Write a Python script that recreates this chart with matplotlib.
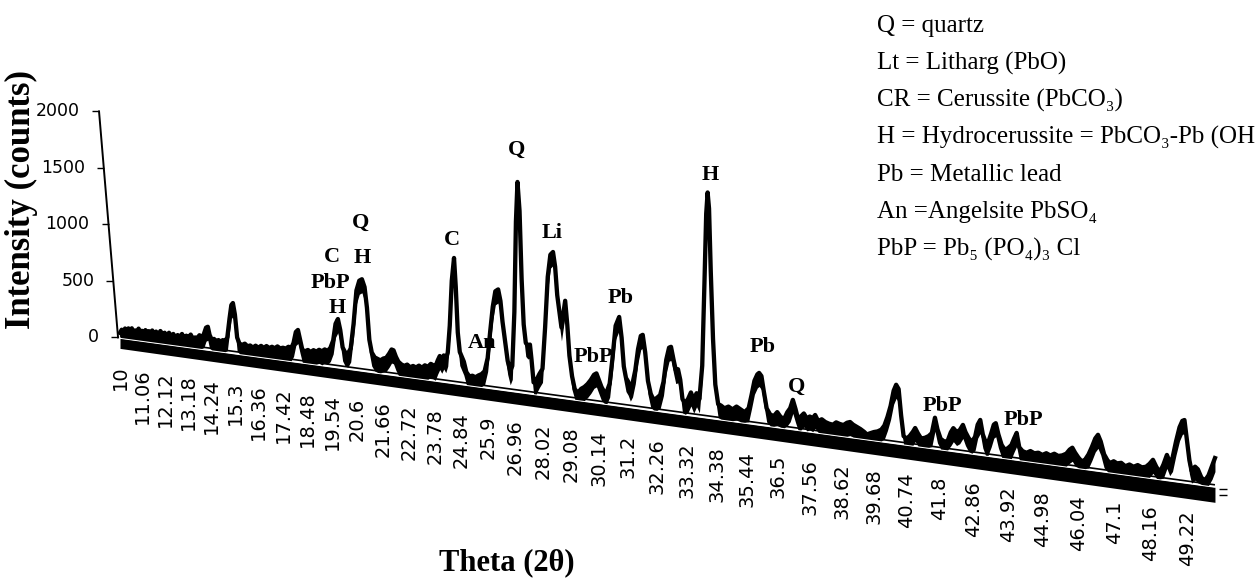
import numpy as np
import matplotlib
matplotlib.use("Agg")
import matplotlib.pyplot as plt
import matplotlib.transforms as mtransforms

# ---------------- data ----------------
theta = [
    10.00, 10.08, 10.16, 10.24, 10.32, 10.40, 10.48, 10.56, 10.64, 10.72, 10.80, 10.88, 10.96, 11.04,
    11.12, 11.20, 11.28, 11.36, 11.44, 11.52, 11.60, 11.70, 11.80, 11.90, 12.00, 12.10, 12.20, 12.30,
    12.40, 12.50, 12.60, 12.70, 12.80, 12.90, 13.00, 13.10, 13.20, 13.30, 13.40, 13.50, 13.60, 13.70,
    13.80, 13.90, 14.00, 14.08, 14.16, 14.26, 14.36, 14.46, 14.56, 14.66, 14.76, 14.86, 14.96, 15.06,
    15.14, 15.21, 15.30, 15.40, 15.50, 15.62, 15.74, 15.86, 15.98, 16.10, 16.22, 16.34, 16.46, 16.58,
    16.70, 16.82, 16.94, 17.06, 17.18, 17.30, 17.42, 17.54, 17.66, 17.78, 17.88, 17.98, 18.07, 18.16,
    18.26, 18.38, 18.50, 18.62, 18.74, 18.86, 18.98, 19.10, 19.22, 19.34, 19.46, 19.58, 19.68, 19.78,
    19.88, 19.98, 20.08, 20.20, 20.32, 20.44, 20.56, 20.68, 20.79, 20.90, 21.00, 21.10, 21.20, 21.32,
    21.44, 21.56, 21.68, 21.80, 21.92, 22.02, 22.10, 22.20, 22.30, 22.42, 22.54, 22.66, 22.78, 22.90,
    23.02, 23.14, 23.26, 23.38, 23.50, 23.62, 23.72, 23.80, 23.90, 23.98, 24.06, 24.14, 24.22, 24.30,
    24.38, 24.46, 24.55, 24.62, 24.70, 24.78, 24.86, 24.94, 25.04, 25.16, 25.28, 25.40, 25.52, 25.64,
    25.76, 25.88, 25.98, 26.08, 26.18, 26.29, 26.38, 26.46, 26.56, 26.66, 26.76, 26.84, 26.92, 26.98,
    27.04, 27.12, 27.20, 27.28, 27.36, 27.44, 27.52, 27.58, 27.66, 27.76, 27.88, 28.00, 28.10, 28.20,
    28.30, 28.40, 28.48, 28.56, 28.64, 28.72, 28.78, 28.86, 28.94, 29.02, 29.12, 29.22, 29.34, 29.46,
    29.58, 29.70, 29.82, 29.94, 30.03, 30.12, 30.22, 30.32, 30.42, 30.52, 30.62, 30.74, 30.87, 30.96,
    31.04, 31.12, 31.20, 31.28, 31.36, 31.46, 31.56, 31.66, 31.73, 31.82, 31.92, 32.02, 32.12, 32.24,
    32.36, 32.48, 32.58, 32.68, 32.75, 32.84, 32.92, 33.00, 33.08, 33.16, 33.26, 33.36, 33.46, 33.56,
    33.66, 33.76, 33.86, 33.94, 34.00, 34.05, 34.10, 34.16, 34.24, 34.32, 34.42, 34.52, 34.64, 34.78,
    34.92, 35.06, 35.20, 35.34, 35.48, 35.58, 35.68, 35.78, 35.84, 35.92, 36.00, 36.10, 36.22, 36.34,
    36.46, 36.58, 36.70, 36.80, 36.90, 36.99, 37.08, 37.16, 37.26, 37.36, 37.46, 37.56, 37.66, 37.74,
    37.84, 37.96, 38.08, 38.20, 38.33, 38.44, 38.56, 38.68, 38.80, 38.90, 39.00, 39.12, 39.24, 39.36,
    39.45, 39.56, 39.68, 39.80, 39.92, 40.02, 40.12, 40.22, 40.32, 40.40, 40.48, 40.56, 40.64, 40.74,
    40.84, 40.94, 41.01, 41.10, 41.20, 41.32, 41.44, 41.54, 41.64, 41.72, 41.82, 41.94, 42.04, 42.14,
    42.22, 42.32, 42.42, 42.52, 42.60, 42.70, 42.80, 42.90, 42.98, 43.06, 43.14, 43.22, 43.30, 43.40,
    43.48, 43.54, 43.62, 43.72, 43.82, 43.92, 44.02, 44.10, 44.18, 44.26, 44.36, 44.48, 44.60, 44.72,
    44.84, 44.96, 45.08, 45.20, 45.32, 45.44, 45.56, 45.68, 45.78, 45.86, 45.94, 46.04, 46.14, 46.24,
    46.34, 46.44, 46.54, 46.62, 46.70, 46.80, 46.90, 46.98, 47.08, 47.18, 47.30, 47.42, 47.54, 47.66,
    47.78, 47.90, 48.02, 48.12, 48.22, 48.32, 48.42, 48.52, 48.62, 48.70, 48.78, 48.88, 48.98, 49.06,
    49.12, 49.18, 49.26, 49.32, 49.42, 49.50, 49.60, 49.70, 49.80, 49.90, 49.98,
]
counts = [
    40, 70, 45, 85, 55, 90, 60, 95, 50, 80, 60, 100, 70, 85,
    55, 95, 65, 90, 60, 100, 75, 95, 60, 105, 80, 95, 65, 100,
    70, 95, 60, 90, 75, 105, 70, 95, 80, 110, 75, 90, 85, 115,
    95, 130, 190, 200, 130, 90, 100, 80, 95, 85, 100, 90, 130, 300,
    420, 440, 340, 140, 90, 80, 95, 75, 85, 70, 90, 75, 95, 80,
    100, 85, 100, 90, 110, 95, 105, 100, 120, 110, 160, 260, 280, 200,
    110, 100, 115, 100, 120, 110, 130, 120, 140, 130, 160, 230, 380, 425,
    330, 180, 140, 130, 180, 400, 700, 790, 806, 740, 560, 280, 170, 130,
    120, 110, 130, 140, 180, 220, 215, 160, 120, 100, 90, 105, 85, 100,
    90, 110, 95, 120, 110, 140, 130, 120, 180, 220, 190, 230, 200, 260,
    500, 900, 1105, 850, 450, 280, 240, 200, 110, 75, 85, 75, 95, 110,
    140, 260, 500, 720, 860, 880, 780, 600, 430, 260, 170, 220, 700, 1500,
    1854, 1600, 1000, 600, 440, 420, 430, 300, 100, 120, 180, 230, 600, 1050,
    1250, 1277, 1150, 900, 760, 620, 720, 860, 650, 380, 200, 90, 60, 100,
    120, 150, 190, 240, 255, 200, 140, 100, 110, 180, 400, 700, 782, 600,
    350, 250, 220, 170, 210, 330, 520, 640, 652, 500, 250, 140, 90, 110,
    140, 260, 460, 570, 580, 470, 380, 390, 300, 130, 100, 140, 200, 140,
    200, 150, 450, 1200, 1800, 1990, 1850, 1300, 700, 300, 130, 120, 100, 120,
    100, 130, 110, 90, 130, 250, 380, 440, 455, 430, 300, 150, 100, 90,
    130, 90, 80, 140, 180, 257, 180, 100, 120, 150, 110, 130, 120, 150,
    100, 120, 100, 90, 85, 110, 100, 95, 120, 130, 110, 95, 80, 60,
    40, 55, 70, 80, 100, 140, 220, 320, 460, 515, 480, 250, 70, 50,
    80, 120, 155, 110, 70, 80, 100, 130, 270, 170, 90, 70, 80, 160,
    200, 170, 190, 240, 180, 130, 100, 150, 260, 305, 180, 120, 110, 200,
    280, 295, 200, 110, 70, 90, 120, 180, 234, 110, 80, 70, 90, 75,
    85, 70, 90, 75, 95, 80, 90, 110, 150, 170, 130, 90, 60, 80,
    130, 200, 280, 315, 260, 150, 100, 80, 100, 85, 95, 70, 90, 75,
    95, 80, 90, 120, 160, 100, 60, 130, 220, 160, 200, 350, 480, 540,
    550, 400, 200, 110, 150, 130, 60, 40, 90, 180, 250,
]
x_tick_labels = ["10", "11.06", "12.12", "13.18", "14.24", "15.3", "16.36", "17.42", "18.48",
                 "19.54", "20.6", "21.66", "22.72", "23.78", "24.84", "25.9", "26.96", "28.02",
                 "29.08", "30.14", "31.2", "32.26", "33.32", "34.38", "35.44", "36.5", "37.56",
                 "38.62", "39.68", "40.74", "41.8", "42.86", "43.92", "44.98", "46.04", "47.1",
                 "48.16", "49.22"]
y_ticks = [0, 500, 1000, 1500, 2000]
peak_labels = ["Q", "H", "C", "PbP", "H", "C", "Q", "Li", "An", "PbP", "Pb", "H", "Pb", "Q",
               "PbP", "PbP"]
key_lines = ["Q = quartz",
             "Lt = Litharg (PbO)",
             "CR = Cerussite (PbCO\u2083)",
             "H = Hydrocerussite = PbCO\u2083-Pb (OH",
             "Pb = Metallic lead",
             "An =Angelsite PbSO\u2084",
             "PbP = Pb\u2085 (PO\u2084)\u2083 Cl"]
x_title = "Theta (2\u03b8)"
y_title = "Intensity (counts)"

# ---------------- layout ----------------
W, H, DPI = 1257, 583, 100
SERIF = ["Liberation Serif", "DejaVu Serif"]
SANS = ["DejaVu Sans"]
peak_label_pos = [(361, 223), (362, 258), (332, 257), (330, 283), (337, 308), (452, 240),
                  (517, 150), (552, 233), (482, 343), (593, 357), (621, 298), (710, 175),
                  (763, 347), (797, 387), (942, 406), (1023, 420)]

fig = plt.figure(figsize=(W / DPI, H / DPI), dpi=DPI)
ax = fig.add_axes([0, 0, 1, 1])
ax.set_axis_off()

# perspective of the 3-D category axis (scaled x == pixel column)
P0, P1, P2 = 120.0, 21.531, 0.006173


def fwd(t):
    i = (np.asarray(t, float) - 10.0) / 1.06
    return (P0 + P1 * i) / (1.0 - P2 * i)


def inv(p):
    p = np.asarray(p, float)
    i = (p - P0) / (P1 + P2 * p)
    return 10.0 + 1.06 * i


ax.set_xscale("function", functions=(fwd, inv))
ax.set_xlim(float(inv(0)), float(inv(W)))
S = 0.113        # pixels per count
Y0 = H - 337     # pixel row of zero level at the back wall
X0 = 117.0
ax.set_ylim(-Y0 / S, (H - Y0) / S)

K = 0.136 / S    # floor slope (counts per pixel)
shear = mtransforms.Affine2D(np.array([[1.0, 0.0, 0.0], [-K, 1.0, K * X0], [0.0, 0.0, 1.0]]))
trans = ax.transScale + shear + ax.transLimits + ax.transAxes
lean = mtransforms.Affine2D(np.array([[1.0, -19.0 / 2000.0, -2.0], [0.0, 1.0, 0.0], [0.0, 0.0, 1.0]]))
axis_trans = ax.transScale + shear + lean + ax.transLimits + ax.transAxes


def shifted(dy, dx=0):
    return mtransforms.offset_copy(trans, fig=fig, x=dx, y=dy, units="dots")


ends = [theta[0], theta[-1]]
# floor band (thicker towards the viewer), thin white edge and the ribbon's lower edge
ax.fill_between(ends, [-11.0 / S, -16.0 / S], [-1.0 / S, -1.0 / S], transform=trans,
                color="black", lw=0, zorder=2)
ax.plot(ends, [0, 0], transform=shifted(-0.5), color="white",
        lw=0.8, solid_capstyle="butt", zorder=2.5)
ax.plot(ends, [0, 0], transform=shifted(1.5), color="black",
        lw=1.2, solid_capstyle="butt", zorder=2.5)
for dy in (-3, -9):
    ax.plot([theta[-1]], [0], transform=shifted(dy, 4), marker=1, markersize=6,
            color="black", ls="none", zorder=2)

# data drawn as a 3-D ribbon: thick line plus a face below it
c = np.asarray(counts, float)
ax.fill_between(theta, np.maximum(c - 120, 0), c, transform=trans, color="black",
                lw=0, zorder=3)
ax.plot(theta, counts, transform=trans, color="black", lw=3.1,
        solid_joinstyle="round", zorder=3)

# y axis (wall edge)
ax.plot([10, 10], [0, y_ticks[-1]], transform=axis_trans, color="black", lw=1.4, zorder=3)
ax.plot([10] * len(y_ticks), y_ticks, transform=axis_trans, marker=0, markersize=5,
        color="black", ls="none", zorder=3)
ylab_tr = mtransforms.offset_copy(axis_trans, fig=fig, x=-19, y=0, units="dots")
for v in y_ticks:
    ax.text(10, v, str(v), transform=ylab_tr, ha="right", va="center",
            fontsize=12.5, family=SANS)

# x tick labels along the sloping floor
xlab_tr = shifted(-28)
for lab in x_tick_labels:
    ax.text(float(lab), 0, lab, transform=xlab_tr, rotation=90, ha="center", va="top",
            fontsize=14, family=SANS)

# peak labels
for s, (px, py) in zip(peak_labels, peak_label_pos):
    fig.text(px / W, 1 - py / H, s, ha="center", va="center", fontsize=16,
             fontweight="bold", family=SERIF)

# key
for k, line in enumerate(key_lines):
    fig.text(877 / W, 1 - (32 + 37.2 * k) / H, line, ha="left", va="baseline",
             fontsize=18, family=SERIF)

# axis titles
fig.text(21 / W, 1 - 199 / H, y_title, rotation=90, ha="center", va="center",
         fontsize=25, fontweight="bold", family=SERIF)
fig.text(507 / W, 1 - 563 / H, x_title, ha="center", va="center",
         fontsize=22, fontweight="bold", family=SERIF)

fig.savefig("out.png", dpi=DPI)
